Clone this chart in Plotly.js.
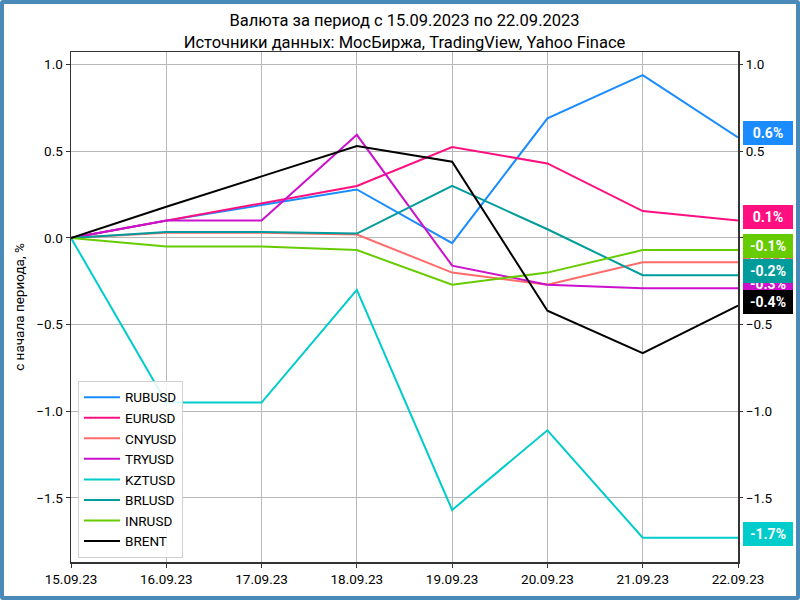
<!DOCTYPE html>
<html><head><meta charset="utf-8">
<script src="https://cdn.plot.ly/plotly-3.0.1.min.js"></script>
<style>
html,body{margin:0;padding:0;background:#fff;}
#wrap{position:absolute;left:0;top:0;width:800px;height:600px;box-sizing:border-box;border:4px solid #4a8ab8;border-radius:3px;background:#fff;}
#chart{width:792px;height:592px;}
</style></head>
<body><div id="wrap"><div id="chart"></div></div>
<script>
const dates = ['15.09.23','16.09.23','17.09.23','18.09.23','19.09.23','20.09.23','21.09.23','22.09.23'];
const names = ['RUBUSD','EURUSD','CNYUSD','TRYUSD','KZTUSD','BRLUSD','INRUSD','BRENT'];
const colors = ['#1a8cff','#ff0f80','#ff6b6b','#cc11cc','#00cccc','#009c9c','#66cc00','#000000'];
const RUBUSD = [0, 0.10, 0.19, 0.28, -0.03, 0.69, 0.94, 0.58];
const EURUSD = [0, 0.10, 0.20, 0.30, 0.525, 0.43, 0.155, 0.10];
const CNYUSD = [0, 0.03, 0.03, 0.02, -0.20, -0.27, -0.14, -0.14];
const TRYUSD = [0, 0.10, 0.10, 0.595, -0.16, -0.27, -0.29, -0.29];
const KZTUSD = [0, -0.95, -0.95, -0.30, -1.57, -1.11, -1.73, -1.73];
const BRLUSD = [0, 0.035, 0.035, 0.025, 0.30, 0.05, -0.215, -0.215];
const INRUSD = [0, -0.05, -0.05, -0.07, -0.27, -0.20, -0.07, -0.07];
const BRENT  = [0, 0.18, 0.355, 0.53, 0.44, -0.42, -0.665, -0.39];
const series = [RUBUSD, EURUSD, CNYUSD, TRYUSD, KZTUSD, BRLUSD, INRUSD, BRENT];

const font = 'Roboto, "DejaVu Sans", sans-serif';
const traces = series.map((s,i)=>({
  x: dates, y: s, name: names[i], type:'scatter', mode:'lines',
  line:{color:colors[i], width:2}, hoverinfo:'skip'
}));
traces.push({x:[dates[0]], y:[0], yaxis:'y2', mode:'markers', marker:{opacity:0}, showlegend:false, hoverinfo:'skip'});

const annotations = series.map((s,i)=>{
  const v = s[s.length-1];
  return {xref:'paper', yref:'y', x:1, y:v, xanchor:'left', yanchor:'middle', xshift:5, yshift:4,
    text:'<b>'+(Math.round(v*10)/10).toFixed(1)+'%</b>', showarrow:false,
    bgcolor:colors[i], font:{family:font, size:14, color:'#ffffff'}, borderpad:3, borderwidth:0,
    width:44, height:18};
});

const yr = [-1.87, 1.073];
const layout = {
  width:792, height:592,
  margin:{l:67, r:58, t:48, b:34},
  paper_bgcolor:'#ffffff', plot_bgcolor:'#ffffff',
  font:{family:font, size:13, color:'#000'},
  title:{text:'Валюта за период с 15.09.2023 по 22.09.2023<br>Источники данных: МосБиржа, TradingView, Yahoo Finace',
    font:{family:font, size:16.5, color:'#000'}, x:0.5, xref:'paper', y:0.962, yref:'container', yanchor:'top'},
  xaxis:{type:'category', range:[0,7], showgrid:true, gridcolor:'#b8b8b8', gridwidth:1,
    showline:true, linecolor:'#333', linewidth:1.5, mirror:true, ticks:'outside', ticklen:4, tickcolor:'#333',
    tickfont:{size:13.5}, zeroline:false, fixedrange:true},
  yaxis:{range:yr, tickvals:[-1.5,-1,-0.5,0,0.5,1], ticktext:['−1.5','−1.0','−0.5','0.0','0.5','1.0'],
    showgrid:true, gridcolor:'#b8b8b8', gridwidth:1, zeroline:false, tickfont:{size:13.5},
    showline:true, linecolor:'#333', linewidth:1.5, mirror:true, ticks:'outside', ticklen:4, tickcolor:'#333',
    title:{text:'с начала периода, %', font:{size:13.5}, standoff:8}},
  yaxis2:{range:yr, overlaying:'y', side:'right', tickvals:[-1.5,-1,-0.5,0,0.5,1], ticktext:['−1.5','−1.0','−0.5','0.0','0.5','1.0'],
    showgrid:false, zeroline:false, showline:false, ticks:'outside', ticklen:4, tickcolor:'#333', tickfont:{size:13.5}},
  legend:{x:0.0105, y:0.008, xanchor:'left', yanchor:'bottom', bgcolor:'rgba(255,255,255,0.85)',
    bordercolor:'#d0d0d0', borderwidth:1, font:{size:13.5}, itemwidth:36},
  annotations: annotations,
  showlegend:true
};
Plotly.newPlot('chart', traces, layout, {displayModeBar:false, staticPlot:true});
</script></body></html>
